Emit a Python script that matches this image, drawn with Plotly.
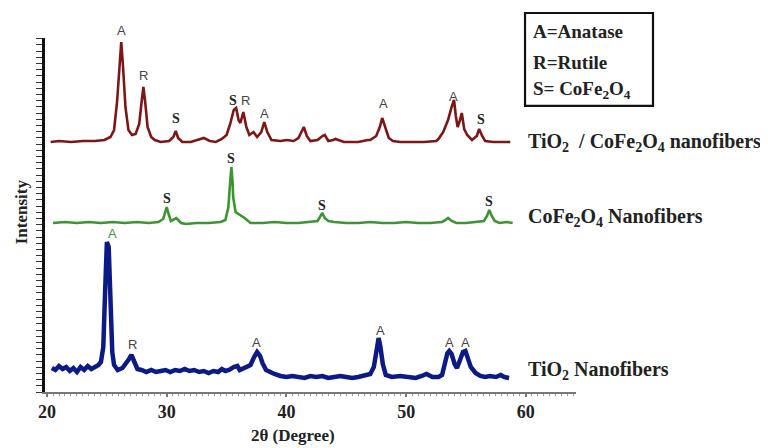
import plotly.graph_objects as go

# ---------------- data (2θ in degrees, intensity in arbitrary units, stacked as drawn) -------------
tio2_cofe2o4_x = [20.3, 21.0, 22.0, 23.0, 24.0, 24.8, 25.3, 25.6, 25.85, 26.05, 26.2, 26.35, 26.55, 26.8,
                  27.1, 27.4, 27.7, 27.9, 28.05, 28.2, 28.4, 28.7, 29.0, 29.5, 30.2, 30.55, 30.75, 30.95,
                  31.3, 32.0, 32.6, 33.1, 33.6, 34.1, 34.6, 35.0, 35.3, 35.6, 35.8, 36.0, 36.15, 36.4,
                  36.65, 36.9, 37.25, 37.55, 37.9, 38.15, 38.4, 38.75, 39.5, 40.0, 40.6, 41.0, 41.25,
                  41.45, 41.7, 42.0, 42.6, 43.0, 43.2, 43.5, 43.9, 44.1, 44.8, 45.5, 46.0, 46.8, 47.0,
                  47.5, 47.8, 48.0, 48.25, 48.55, 48.9, 49.5, 50.5, 51.5, 52.5, 52.7, 53.1, 53.5, 53.8,
                  54.0, 54.15, 54.3, 54.45, 54.65, 54.85, 55.1, 55.5, 55.9, 56.1, 56.35, 56.6, 57.3,
                  58.0, 58.7]
tio2_cofe2o4_y = [250, 251, 250, 251, 251, 252, 255, 262, 290, 330, 350, 325, 285, 262,
                  257, 258, 268, 290, 305, 290, 265, 255, 252, 250, 251, 255, 261, 254,
                  250, 250, 252, 254, 251, 250, 253, 257, 268, 282, 284, 272, 269, 280,
                  265, 257, 260, 255, 260, 270, 260, 252, 251, 252, 251, 254, 260,
                  265, 256, 251, 252, 256, 257, 251, 252, 253, 250, 250, 250, 252, 252,
                  256, 265, 274, 265, 254, 251, 250, 250, 250, 251, 253, 260, 272, 285,
                  292, 276, 265, 270, 279, 263, 257, 252, 256, 263, 256, 251, 250,
                  250, 250]

cofe2o4_x = [20.5, 21.5, 22.5, 23.5, 24.5, 25.5, 26.5, 27.5, 28.5, 29.3, 29.7, 29.85, 30.0, 30.15,
             30.35, 30.8, 31.2, 31.6, 32.5, 33.5, 34.5, 34.9, 35.15, 35.3, 35.4, 35.5, 35.55, 35.75,
             36.0, 36.2, 36.5, 37.0, 38.0, 39.0, 40.0, 41.0, 42.0, 42.6, 42.85, 43.0, 43.2, 43.5,
             44.0, 45.0, 46.0, 47.0, 48.0, 49.0, 50.0, 51.0, 52.0, 53.0, 53.3, 53.5, 53.8, 54.2,
             55.0, 56.0, 56.5, 56.75, 56.95, 57.15, 57.4, 57.8, 58.4, 58.9]
cofe2o4_y = [169, 170, 169, 170, 169, 170, 169, 170, 169, 170, 173, 180, 185, 178,
             171, 174, 169, 168, 169, 169, 170, 172, 185, 210, 225, 210, 195, 180,
             178, 177, 174, 169, 169, 170, 169, 169, 170, 171, 176, 179, 174, 171,
             170, 169, 169, 170, 169, 169, 170, 169, 169, 170, 172, 174, 171, 169,
             169, 170, 171, 176, 182, 176, 171, 169, 170, 169]

tio2_x = [20.4, 20.7, 21.0, 21.3, 21.6, 21.9, 22.2, 22.5, 22.8, 23.1, 23.4, 23.7, 24.0, 24.3, 24.5,
          24.7, 24.85, 25.0, 25.15, 25.3, 25.45, 25.6, 25.9, 26.3, 26.6, 26.85, 27.05, 27.3, 27.55,
          27.9, 28.3, 28.7, 29.1, 29.5, 29.9, 30.3, 30.7, 31.1, 31.5, 31.9, 32.3, 32.7, 33.1, 33.5,
          33.9, 34.3, 34.6, 34.9, 35.2, 35.6, 35.9, 36.1, 36.4, 36.7, 37.0, 37.3, 37.55, 37.8, 38.0,
          38.3, 38.6, 39.0, 39.5, 40.0, 40.5, 41.0, 41.5, 42.0, 42.5, 43.0, 43.5, 44.0, 44.5, 45.0,
          45.5, 46.0, 46.5, 47.0, 47.3, 47.55, 47.7, 47.85, 48.05, 48.3, 48.8, 49.5, 50.2, 50.8,
          51.3, 51.7, 52.2, 52.7, 53.0, 53.25, 53.45, 53.6, 53.8, 54.05, 54.25, 54.5, 54.75, 54.95,
          55.15, 55.4, 55.8, 56.2, 56.6, 57.0, 57.5, 57.9, 58.2, 58.6]
tio2_y = [24, 22, 26, 23, 25, 21, 24, 20, 25, 22, 26, 23, 25, 27, 30,
          45, 100, 150, 145, 90, 40, 27, 22, 24, 28, 33, 37, 30, 23,
          22, 20, 22, 20, 21, 22, 20, 22, 21, 23, 21, 22, 20, 21, 19,
          21, 20, 23, 21, 22, 25, 26, 22, 24, 26, 27, 35, 40, 36, 29,
          22, 20, 18, 16, 15, 16, 15, 14, 16, 15, 16, 14, 15, 16, 15,
          14, 15, 16, 18, 25, 40, 54, 45, 28, 17, 15, 16, 15, 14,
          16, 18, 15, 15, 17, 28, 39, 41, 38, 28, 24, 32, 40, 41,
          35, 25, 19, 16, 15, 16, 15, 17, 15, 14]

# peak labels: (letter, 2θ, label height in intensity units)
red_labels = [("A", 26.18, 361), ("R", 28.1, 317), ("S", 30.78, 274), ("S", 35.5, 291),
              ("R", 36.6, 291), ("A", 38.13, 279), ("A", 48.07, 288), ("A", 53.92, 296),
              ("S", 56.26, 272)]
green_labels = [("S", 30.03, 194), ("S", 35.37, 234), ("S", 42.97, 187), ("S", 56.93, 190)]
blue_labels = [("A", 25.43, 159), ("R", 27.1, 48), ("A", 37.54, 50), ("A", 47.82, 62),
               ("A", 53.58, 50), ("A", 54.92, 50)]

series_names = ["TiO<sub>2</sub>  / CoFe<sub>2</sub>O<sub>4</sub> nanofibers",
                "CoFe<sub>2</sub>O<sub>4</sub> Nanofibers",
                "TiO<sub>2</sub> Nanofibers"]
series_label_levels = [250, 175, 22]
key_lines = ["A=Anatase", "R=Rutile", "S= CoFe<sub>2</sub>O<sub>4</sub>"]
x_ticks = [20, 30, 40, 50, 60]

# ---------------- styling ----------------
RED = "#7e1616"
GREEN = "#3c9530"
BLUE = "#0c1a86"
SERIF = "Liberation Serif"
SANS = "Liberation Sans"
Y_MAX = 354

fig = go.Figure()
fig.add_trace(go.Scatter(x=tio2_cofe2o4_x, y=tio2_cofe2o4_y, mode="lines",
                         line=dict(color=RED, width=2.6), showlegend=False))
fig.add_trace(go.Scatter(x=cofe2o4_x, y=cofe2o4_y, mode="lines",
                         line=dict(color=GREEN, width=2.6), showlegend=False))
fig.add_trace(go.Scatter(x=tio2_x, y=tio2_y, mode="lines",
                         line=dict(color=BLUE, width=4.5), showlegend=False))

annotations = []


def peak_label(letter, x, y, color_override=None):
    # y given in intensity units; converted to the plot's paper fraction so labels above the range stay visible
    base = dict(x=x, y=y / Y_MAX, xref="x", yref="paper", showarrow=False,
                yanchor="middle", xanchor="center")
    if letter == "S":
        base.update(text="<b>S</b>", font=dict(family=SERIF, size=14, color=color_override or "#222"))
    else:
        base.update(text=letter, font=dict(family=SANS, size=13, color=color_override or "#444"))
    return base


for l, x, y in red_labels:
    annotations.append(peak_label(l, x, y))
for l, x, y in green_labels:
    annotations.append(peak_label(l, x, y))
for i, (l, x, y) in enumerate(blue_labels):
    annotations.append(peak_label(l, x, y, GREEN if i == 0 else None))

# series names at right
for name, lvl in zip(series_names, series_label_levels):
    annotations.append(dict(x=0.905, y=lvl, xref="paper", yref="y", text="<b>" + name + "</b>",
                            showarrow=False, xanchor="left", yanchor="middle",
                            font=dict(family=SERIF, size=20, color="#222")))

# key box text
for txt, py in zip(key_lines, [1.017, 0.932, 0.853]):
    annotations.append(dict(x=0.915, y=py, xref="paper", yref="paper", text="<b>" + txt + "</b>",
                            showarrow=False, xanchor="left", yanchor="middle",
                            font=dict(family=SERIF, size=19, color="#222")))

# axis titles
annotations.append(dict(x=-0.045, y=0.508, xref="paper", yref="paper", text="<b>Intensity</b>",
                        textangle=-90, showarrow=False, xanchor="center", yanchor="middle",
                        font=dict(family=SERIF, size=17, color="#222")))
annotations.append(dict(x=0.467, y=-0.124, xref="paper", yref="paper", text="<b>2θ (Degree)</b>",
                        showarrow=False, xanchor="center", yanchor="middle",
                        font=dict(family=SERIF, size=17, color="#222")))

fig.add_shape(type="rect", xref="paper", yref="paper", x0=0.904, x1=1.145, y0=0.808, y1=1.0706,
              line=dict(color="#111", width=2.2), fillcolor="rgba(0,0,0,0)")

fig.update_layout(
    width=760, height=440,
    margin=dict(l=37, r=192, t=30, b=56),
    paper_bgcolor="white", plot_bgcolor="white",
    annotations=annotations,
    xaxis=dict(range=[19.83, 64.19], tickvals=x_ticks, ticktext=[str(v) for v in x_ticks],
               showgrid=False, zeroline=False, showline=True, linecolor="#777", linewidth=1.5,
               ticks="outside", ticklen=3, tickcolor="#777", tickwidth=1.5,
               minor=dict(dtick=0.5, tick0=0, ticks="outside", ticklen=2, tickcolor="#999", tickwidth=1),
               tickfont=dict(family=SERIF, size=18, color="#222", weight="bold")),
    yaxis=dict(range=[0, Y_MAX], showgrid=False, zeroline=False, showline=True, linecolor="#111",
               linewidth=3, showticklabels=False, ticks="outside", ticklen=6, tickcolor="#333",
               tickwidth=1.3, tick0=0, dtick=6.2),
)

fig.write_html("out.html")
